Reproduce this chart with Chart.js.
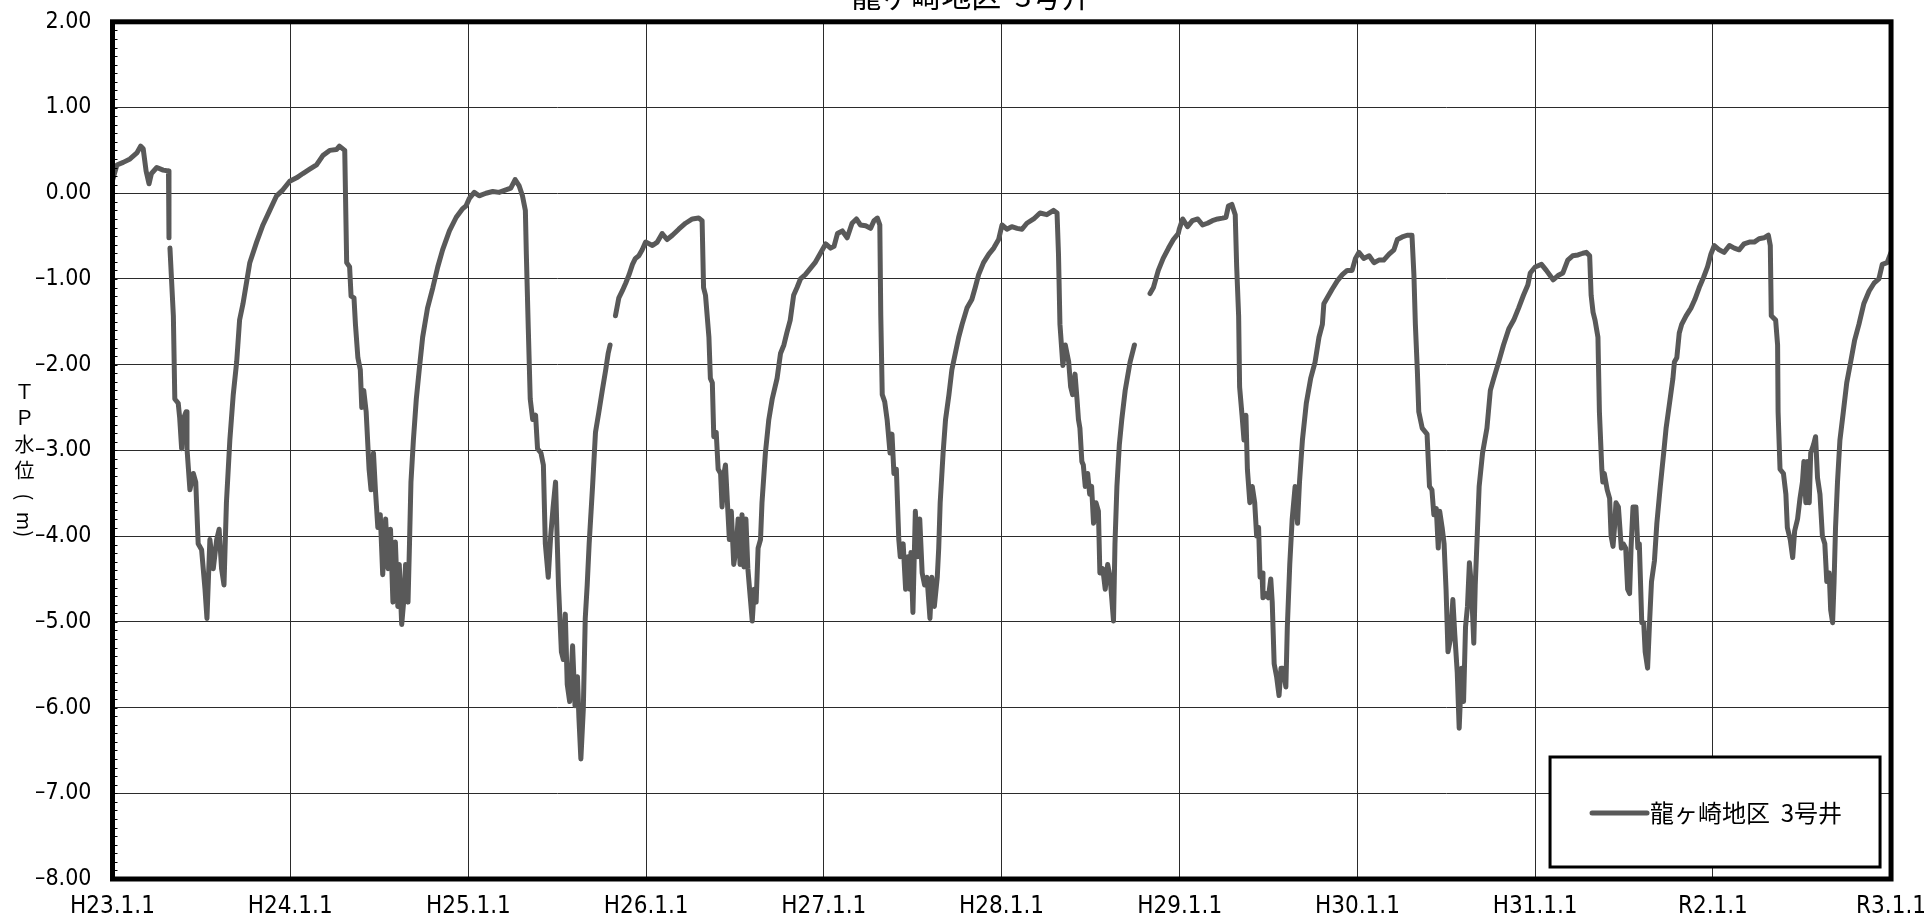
<!DOCTYPE html>
<html lang="ja">
<head>
<meta charset="utf-8">
<title>龍ヶ崎地区 3号井</title>
<script src="https://cdn.jsdelivr.net/npm/chart.js"></script>
<style>
  html, body { margin: 0; padding: 0; background: #fff; overflow: hidden; }
  #chart { display: block; }
</style>
</head>
<body>
<canvas id="chart" width="1926" height="918"></canvas>
<script>
const seriesLabel = "龍ヶ崎地区  3号井";

// x = days since H23.1.1 (2011-01-01)
const tickDays = [0, 365, 731, 1096, 1461, 1826, 2192, 2557, 2922, 3287, 3653];
const tickLabels = ["H23.1.1", "H24.1.1", "H25.1.1", "H26.1.1", "H27.1.1", "H28.1.1",
  "H29.1.1", "H30.1.1", "H31.1.1", "R2.1.1", "R3.1.1"];

// H23 - H24
const daysA = [0, 9, 22, 36, 50, 58, 63, 69, 75, 80, 91, 104, 115, 116, 117, 118, 125, 128, 135, 138,
  142, 145, 151, 153, 159, 166, 171, 176, 183, 190, 194, 200, 207, 214, 219, 224, 229, 234, 241, 248,
  255, 261, 268, 275, 282, 296, 309, 323, 337, 350, 364, 378, 391, 405, 419, 432, 446, 460, 466, 477,
  481, 487, 490, 496, 499, 504, 509, 512, 516, 521, 527, 531, 536, 540, 545, 550, 555, 561, 566, 571,
  576, 581, 586, 589, 594, 598, 602, 607, 610, 613, 618, 624, 630, 637, 647, 658, 668, 678, 692, 706, 719];
const levelsA = [0.15, 0.33, 0.36, 0.40, 0.47, 0.55, 0.52, 0.26, 0.11, 0.23, 0.30, 0.27, 0.26, -0.52, null, -0.64, -1.43, -2.40, -2.45, -2.62,
  -2.98, -2.64, -2.55, -2.98, -3.46, -3.27, -3.37, -4.09, -4.16, -4.62, -4.96, -4.04, -4.38, -4.04, -3.92, -4.38, -4.57, -3.61, -2.88, -2.35,
  -1.97, -1.48, -1.29, -1.05, -0.81, -0.57, -0.37, -0.20, -0.03, 0.04, 0.14, 0.18, 0.23, 0.28, 0.33, 0.44, 0.50, 0.51, 0.55, 0.50,
  -0.81, -0.86, -1.20, -1.22, -1.53, -1.92, -2.06, -2.50, -2.30, -2.55, -3.22, -3.46, -3.03, -3.46, -3.90, -3.75, -4.45, -3.80, -4.38, -3.92,
  -4.77, -4.07, -4.82, -4.33, -5.03, -4.77, -4.33, -4.77, -4.09, -3.37, -2.88, -2.40, -2.06, -1.68, -1.34, -1.10, -0.86, -0.66, -0.44, -0.28, -0.18];

// H25 - H26
const daysB = [726, 733, 743, 753, 767, 781, 794, 808, 818, 827, 835, 842, 848, 850, 854, 858, 863, 869, 873, 880,
  885, 889, 895, 900, 905, 910, 916, 922, 926, 930, 934, 939, 945, 950, 955, 958, 962, 967, 971, 975,
  979, 986, 992, 999, 1006, 1013, 1018, 1022, 1027, 1033, 1040, 1047, 1054, 1061, 1068, 1074, 1081, 1088, 1095, 1109,
  1119, 1129, 1139, 1150, 1163, 1177, 1191, 1204, 1211, 1214, 1218, 1225, 1228, 1232, 1235, 1240, 1244, 1249, 1252, 1256,
  1259, 1263, 1267, 1271, 1276, 1281, 1285, 1289, 1293, 1297, 1301, 1305, 1310, 1314, 1318, 1322, 1326, 1331, 1334, 1341,
  1348, 1355, 1365, 1372, 1379, 1385, 1392, 1399, 1406, 1413, 1423, 1433, 1443];
const levelsB = [-0.15, -0.06, 0.01, -0.03, 0.00, 0.02, 0.01, 0.04, 0.06, 0.16, 0.09, -0.03, -0.20, -0.71, -1.58, -2.40, -2.64, -2.59, -2.98, -3.03,
  -3.17, -4.09, -4.48, -4.00, -3.66, -3.37, -4.57, -5.35, -5.44, -4.91, -5.73, -5.93, -5.28, -5.98, -5.64, -6.12, -6.60, -6.02, -4.96, -4.57,
  -4.09, -3.42, -2.79, -2.55, -2.30, -2.06, -1.87, -1.77, null, -1.43, -1.22, -1.14, -1.05, -0.95, -0.83, -0.76, -0.73, -0.66, -0.57, -0.61,
  -0.57, -0.47, -0.54, -0.49, -0.42, -0.35, -0.30, -0.29, -0.32, -1.10, -1.19, -1.68, -2.16, -2.21, -2.84, -2.79, -3.22, -3.27, -3.66, -3.27,
  -3.17, -3.61, -4.04, -3.71, -4.33, -4.14, -3.80, -4.33, -3.75, -4.36, -3.80, -4.38, -4.72, -4.99, -4.62, -4.77, -4.14, -4.04, -3.61, -3.03,
  -2.64, -2.40, -2.16, -1.87, -1.77, -1.63, -1.48, -1.19, -1.10, -1.00, -0.95, -0.88, -0.81];

// H27 - H28
const daysC = [1465, 1475, 1482, 1489, 1499, 1509, 1519, 1528, 1536, 1547, 1557, 1564, 1571, 1576, 1578, 1581, 1586, 1591, 1597, 1601,
  1605, 1610, 1615, 1618, 1624, 1629, 1634, 1638, 1640, 1644, 1649, 1654, 1658, 1663, 1668, 1673, 1679, 1683, 1688, 1694,
  1697, 1700, 1706, 1711, 1718, 1724, 1731, 1738, 1745, 1755, 1765, 1772, 1779, 1789, 1800, 1810, 1820, 1827, 1837, 1847,
  1858, 1868, 1878, 1892, 1905, 1919, 1933, 1940, 1943, 1946, 1952, 1957, 1964, 1968, 1972, 1977, 1981, 1984, 1987, 1991,
  1994, 1998, 2003, 2007, 2011, 2015, 2020, 2025, 2028, 2034, 2039, 2044, 2049, 2056, 2059, 2063, 2068, 2073, 2080, 2090,
  2099, 2115, 2131, 2138, 2148, 2158, 2169, 2179, 2189];
const levelsC = [-0.59, -0.64, -0.62, -0.47, -0.44, -0.52, -0.35, -0.30, -0.37, -0.38, -0.41, -0.32, -0.29, -0.37, -1.43, -2.35, -2.43, -2.64, -3.03, -2.81,
  -3.27, -3.22, -4.04, -4.24, -4.09, -4.62, -4.24, -4.62, -4.19, -4.89, -3.71, -4.24, -3.80, -4.43, -4.57, -4.48, -4.96, -4.48, -4.82, -4.48,
  -4.14, -3.61, -3.03, -2.64, -2.35, -2.06, -1.87, -1.68, -1.53, -1.34, -1.24, -1.10, -0.95, -0.81, -0.71, -0.64, -0.54, -0.37, -0.42, -0.39,
  -0.41, -0.42, -0.35, -0.30, -0.23, -0.25, -0.20, -0.23, -0.71, -1.53, -2.01, -1.77, -1.97, -2.26, -2.35, -2.11, -2.40, -2.64, -2.74, -3.13,
  -3.17, -3.42, -3.27, -3.51, -3.42, -3.85, -3.61, -3.71, -4.43, -4.38, -4.62, -4.33, -4.48, -4.99, -4.09, -3.42, -2.93, -2.64, -2.30, -1.97,
  -1.77, null, -1.17, -1.10, -0.90, -0.76, -0.64, -0.54, -0.47];

// H29 - H30
const daysD = [2191, 2198, 2208, 2218, 2229, 2239, 2249, 2259, 2270, 2280, 2287, 2292, 2299, 2306, 2309, 2313, 2315, 2320, 2324, 2328,
  2331, 2336, 2341, 2346, 2350, 2354, 2357, 2361, 2363, 2369, 2374, 2379, 2382, 2386, 2391, 2396, 2400, 2404, 2410, 2413,
  2418, 2423, 2429, 2434, 2438, 2444, 2452, 2461, 2470, 2478, 2485, 2488, 2495, 2505, 2516, 2526, 2536, 2546, 2553, 2560,
  2570, 2581, 2591, 2601, 2611, 2622, 2632, 2639, 2649, 2659, 2669, 2673, 2676, 2680, 2683, 2690, 2700, 2705, 2710, 2714,
  2719, 2723, 2726, 2731, 2735, 2739, 2743, 2748, 2753, 2757, 2762, 2766, 2771, 2775, 2779, 2783, 2787, 2791, 2796, 2799,
  2803, 2807, 2814, 2823, 2830, 2837, 2847, 2857, 2868, 2878, 2888, 2898, 2907, 2912, 2922];
const levelsD = [-0.42, -0.30, -0.39, -0.32, -0.30, -0.37, -0.35, -0.32, -0.30, -0.29, -0.28, -0.15, -0.13, -0.25, -0.86, -1.43, -2.26, -2.59, -2.88, -2.59,
  -3.22, -3.61, -3.42, -3.61, -4.00, -3.90, -4.48, -4.43, -4.72, -4.67, -4.72, -4.50, -4.77, -5.49, -5.64, -5.86, -5.54, -5.54, -5.76, -5.06,
  -4.33, -3.80, -3.42, -3.85, -3.37, -2.88, -2.45, -2.16, -1.97, -1.68, -1.53, -1.29, -1.22, -1.12, -1.02, -0.95, -0.90, -0.90, -0.76, -0.69,
  -0.76, -0.73, -0.81, -0.78, -0.78, -0.71, -0.66, -0.54, -0.51, -0.49, -0.49, -0.95, -1.53, -2.06, -2.55, -2.74, -2.81, -3.42, -3.46, -3.75,
  -3.68, -4.14, -3.71, -3.90, -4.09, -4.62, -5.35, -5.20, -4.74, -5.15, -5.59, -6.24, -5.54, -5.93, -5.06, -4.82, -4.31, -4.57, -5.25, -4.57,
  -4.00, -3.42, -3.03, -2.74, -2.30, -2.16, -1.97, -1.77, -1.58, -1.48, -1.34, -1.19, -1.07, -0.93, -0.86];

// H31 - R2
const daysE = [2935, 2945, 2959, 2969, 2979, 2989, 2999, 3010, 3020, 3027, 3034, 3037, 3041, 3045, 3051, 3054, 3059, 3061, 3064, 3070,
  3075, 3078, 3082, 3085, 3088, 3093, 3099, 3103, 3108, 3112, 3116, 3119, 3123, 3129, 3133, 3136, 3141, 3145, 3148, 3153,
  3157, 3161, 3167, 3172, 3179, 3186, 3191, 3198, 3205, 3208, 3213, 3218, 3223, 3232, 3242, 3250, 3259, 3268, 3276, 3283,
  3290, 3300, 3310, 3321, 3331, 3341, 3351, 3362, 3372, 3382, 3392, 3401, 3405, 3407, 3416, 3420, 3421, 3425, 3432, 3437,
  3440, 3446, 3451, 3455, 3461, 3466, 3471, 3474, 3478, 3481, 3485, 3488, 3494, 3498, 3502, 3507, 3512, 3517, 3521, 3526,
  3529, 3533, 3536, 3539, 3543, 3548, 3555, 3562, 3570, 3578, 3587, 3597, 3608, 3618, 3628, 3635, 3645, 3653];
const levelsE = [-0.83, -0.90, -1.01, -0.96, -0.93, -0.78, -0.73, -0.72, -0.70, -0.69, -0.73, -1.19, -1.39, -1.48, -1.68, -2.55, -3.22, -3.37, -3.27, -3.46,
  -3.56, -4.00, -4.12, -3.90, -3.61, -3.66, -4.14, -4.09, -4.14, -4.62, -4.67, -4.14, -3.66, -3.66, -4.14, -4.09, -5.01, -5.01, -5.35, -5.54,
  -5.01, -4.53, -4.29, -3.85, -3.42, -3.03, -2.74, -2.45, -2.16, -1.97, -1.92, -1.63, -1.53, -1.43, -1.34, -1.24, -1.10, -0.98, -0.86, -0.71,
  -0.61, -0.66, -0.69, -0.61, -0.64, -0.66, -0.59, -0.57, -0.57, -0.53, -0.52, -0.49, -0.61, -1.43, -1.48, -1.77, -2.55, -3.22, -3.27, -3.51,
  -3.90, -4.04, -4.25, -3.94, -3.80, -3.56, -3.37, -3.13, -3.61, -3.13, -3.61, -3.03, -2.93, -2.84, -3.32, -3.51, -4.00, -4.09, -4.53, -4.43,
  -4.86, -5.01, -4.53, -3.90, -3.37, -2.88, -2.55, -2.21, -1.97, -1.72, -1.53, -1.29, -1.14, -1.05, -1.00, -0.83, -0.81, -0.69];

const days = [...daysA, ...daysB, ...daysC, ...daysD, ...daysE];
const levels = [...levelsA, ...levelsB, ...levelsC, ...levelsD, ...levelsE];
const points = days.map((d, i) => ({ x: d, y: levels[i] }));

const NUM_FONT = "'Liberation Sans Narrow', 'DejaVu Sans Condensed', 'Liberation Sans', sans-serif";
const JP_FONT = "'Noto Sans CJK JP', sans-serif";
const LINE_COLOR = "#595959";
const GRID_COLOR = "#2b2b2b";

// the title in the original sits a little left of the canvas centre
const titleNudge = {
  id: "titleNudge",
  afterLayout(chart) {
    const t = chart.titleBlock;
    if (t) { t.left += 18; t.width -= 18; }
  }
};

// thick plot frame + small minor ticks on the value axis
const frame = {
  id: "frame",
  afterDatasetsDraw(chart) {
    const { ctx, chartArea: a, scales: { y } } = chart;
    ctx.save();
    ctx.strokeStyle = "#000";
    ctx.lineWidth = 1;
    ctx.beginPath();
    for (let i = 0; i <= 100; i++) {
      const py = Math.round(y.getPixelForValue(y.min + i / 10)) + 0.5;
      ctx.moveTo(a.left, py);
      ctx.lineTo(a.left + 5, py);
    }
    ctx.stroke();
    ctx.lineWidth = 5;
    ctx.strokeRect(a.left, a.top, a.right - a.left, a.bottom - a.top);
    ctx.restore();
  }
};

// vertical axis caption ＴＰ水位(m)
const yTitle = {
  id: "yTitle",
  afterDraw(chart) {
    const ctx = chart.ctx;
    const cx = 24.5;
    ctx.save();
    ctx.fillStyle = "#000";
    ctx.font = "20px " + JP_FONT;
    ctx.textAlign = "center";
    ctx.textBaseline = "middle";
    [["Ｔ", 391], ["Ｐ", 417], ["水", 444], ["位", 470]].forEach(([c, cy]) => ctx.fillText(c, cx, cy));
    [["(", 497], ["m", 521], [")", 534]].forEach(([c, cy]) => {
      ctx.save();
      ctx.translate(cx, cy);
      ctx.rotate(Math.PI / 2);
      ctx.fillText(c, 0, 0);
      ctx.restore();
    });
    ctx.restore();
  }
};

// boxed legend in the lower right of the plot
const legendBox = {
  id: "legendBox",
  afterDraw(chart) {
    const { ctx, chartArea: a } = chart;
    const ds = chart.data.datasets[0];
    const w = 330, h = 110;
    const x = a.right - 11 - w, y = a.bottom - 12 - h;
    ctx.save();
    ctx.fillStyle = "#fff";
    ctx.fillRect(x, y, w, h);
    ctx.strokeStyle = "#000";
    ctx.lineWidth = 3;
    ctx.strokeRect(x, y, w, h);
    const cy = y + h / 2 + 1;
    ctx.strokeStyle = ds.borderColor;
    ctx.lineWidth = 5;
    ctx.lineCap = "round";
    ctx.beginPath();
    ctx.moveTo(x + 42, cy);
    ctx.lineTo(x + 97, cy);
    ctx.stroke();
    ctx.fillStyle = "#000";
    ctx.font = "24px " + JP_FONT;
    ctx.textBaseline = "middle";
    ctx.fillText(ds.label, x + 100, cy);
    ctx.restore();
  }
};

new Chart(document.getElementById("chart"), {
  type: "line",
  data: {
    datasets: [{
      label: seriesLabel,
      data: points,
      borderColor: LINE_COLOR,
      borderWidth: 5,
      pointRadius: 0,
      tension: 0,
      spanGaps: false,
      borderJoinStyle: "round",
      borderCapStyle: "round",
    }]
  },
  options: {
    responsive: false,
    animation: false,
    devicePixelRatio: 1,
    layout: { padding: { left: 30, right: 31.5, top: 0, bottom: 0 } },
    plugins: {
      legend: { display: false },
      tooltip: { enabled: false },
      title: {
        display: true,
        text: seriesLabel,
        color: "#000",
        font: { family: JP_FONT, size: 30, weight: "normal", lineHeight: 1.2 },
        padding: { top: -22.7, bottom: 8.5 },
      },
    },
    scales: {
      x: {
        type: "linear",
        min: 0,
        max: 3653,
        afterBuildTicks: (s) => { s.ticks = tickDays.map((v) => ({ value: v })); },
        afterFit: (s) => { s.height = 39; },
        ticks: {
          callback: (v, i) => tickLabels[i],
          color: "#000",
          font: { family: NUM_FONT, size: 24 },
          padding: 0,
          maxRotation: 0,
          autoSkip: false,
        },
        grid: { color: GRID_COLOR, lineWidth: 1, drawTicks: true, tickLength: 13, tickColor: "rgba(0,0,0,0)" },
        border: { display: false },
      },
      y: {
        min: -8,
        max: 2,
        afterFit: (s) => { s.width = 82.5; },
        ticks: {
          stepSize: 1,
          callback: (v) => (v < 0 ? "\u2013" : "") + Math.abs(v).toFixed(2),
          color: "#000",
          font: { family: NUM_FONT, size: 23 },
          padding: 0,
        },
        grid: { color: GRID_COLOR, lineWidth: 1, drawTicks: true, tickLength: 21, tickColor: "rgba(0,0,0,0)" },
        border: { display: false },
      },
    },
  },
  plugins: [titleNudge, frame, yTitle, legendBox],
});
</script>
</body>
</html>
